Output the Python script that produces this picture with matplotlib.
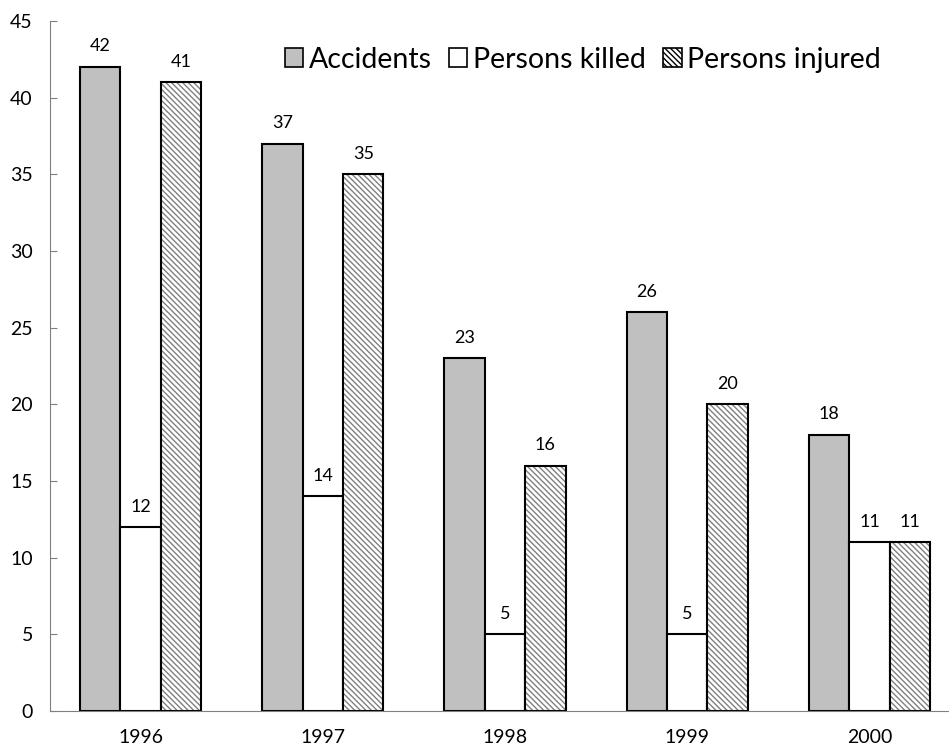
import matplotlib.pyplot as plt
import numpy as np
from matplotlib.patches import Patch

years = ["1996", "1997", "1998", "1999", "2000"]
accidents = [42, 37, 23, 26, 18]
killed = [12, 14, 5, 5, 11]
injured = [41, 35, 16, 20, 11]

plt.rcParams['font.family'] = ['Lato', 'DejaVu Sans']
plt.rcParams['hatch.linewidth'] = 1.0

fig = plt.figure(figsize=(9.49, 7.49), dpi=100)
ax = fig.add_axes([49.5 / 949, 38 / 749, 911 / 949, 690 / 749])

x = np.arange(len(years))
w = 0.222
hatch = "\\" * 6

ax.bar(x - w, accidents, w, color="#c0c0c0", edgecolor="black", linewidth=1.5, label="Accidents")
ax.bar(x, killed, w, color="white", edgecolor="black", linewidth=1.5, label="Persons killed")
# hatch in gray, outline in black
ax.bar(x + w, injured, w, color="white", edgecolor="#808080", linewidth=0, hatch=hatch)
ax.bar(x + w, injured, w, fill=False, edgecolor="black", linewidth=1.5)

for series, off in [(accidents, -w), (killed, 0), (injured, w)]:
    for xi, v in zip(x, series):
        ax.annotate(str(v), (xi + off, v), xytext=(0, 9), textcoords="offset points",
                    ha="center", va="bottom", fontsize=13)

ax.set_xlim(-0.5, 4.5)
ax.set_ylim(0, 45)
ax.set_yticks(range(0, 46, 5))
ax.set_xticks(x)
ax.set_xticklabels(years)
ax.tick_params(axis="x", length=0, pad=13, labelsize=14)
ax.tick_params(axis="y", direction="in", length=5, color="#808080", labelsize=14, pad=12)
for s in ["top", "right"]:
    ax.spines[s].set_visible(False)
ax.spines["left"].set_color("#808080")
ax.spines["bottom"].set_color("#808080")

handles = [
    Patch(facecolor="#c0c0c0", edgecolor="black", linewidth=1.2, label="Accidents"),
    Patch(facecolor="white", edgecolor="black", linewidth=1.2, label="Persons killed"),
    Patch(facecolor="white", edgecolor="black", linewidth=1.2, hatch=hatch, label="Persons injured"),
]
ax.legend(handles=handles, loc="upper left", bbox_to_anchor=(0.23, 1.0), ncol=3, frameon=False,
          fontsize=20.5, handlelength=0.65, handleheight=0.65, handletextpad=0.2, columnspacing=0.6)

plt.savefig("out.png", dpi=100)
